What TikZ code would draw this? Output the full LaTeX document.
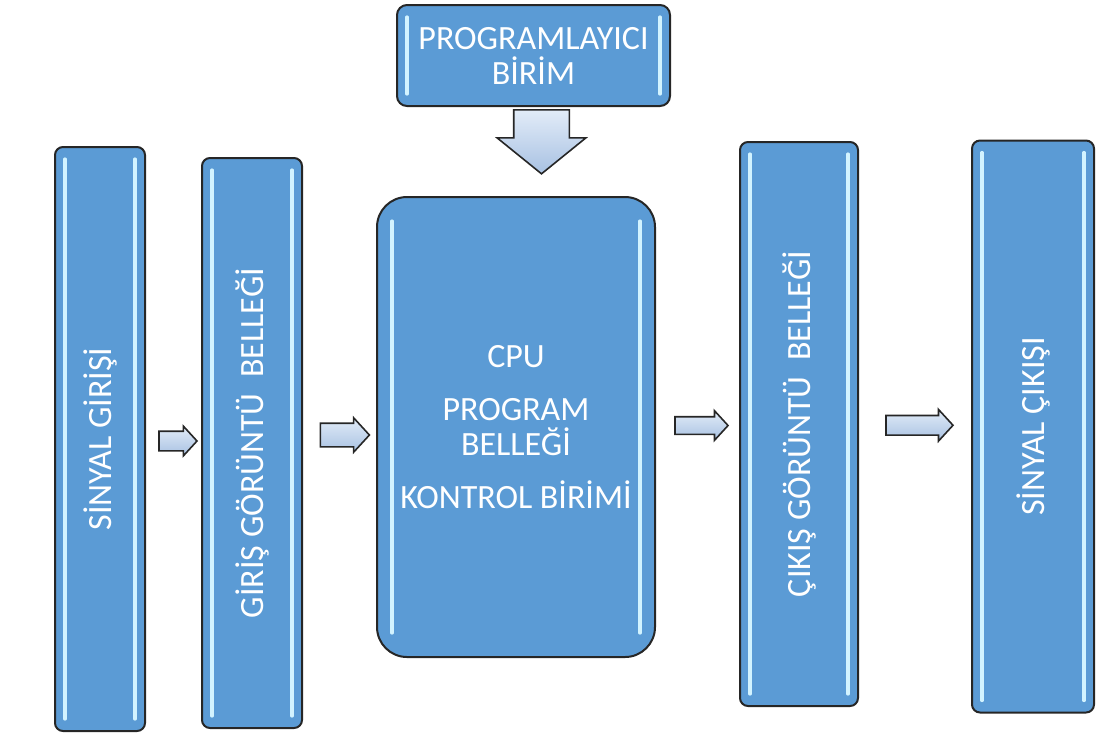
\documentclass[tikz,border=0pt]{standalone}
\usepackage{fontspec}
\setmainfont{Carlito}
\usepackage{tikz}
\definecolor{boxblue}{RGB}{91,155,213}
\definecolor{glintblue}{RGB}{210,243,255}
\definecolor{arrowtop}{RGB}{226,236,248}
\definecolor{arrowbottom}{RGB}{168,193,226}
\usetikzlibrary{shapes.arrows, positioning, calc}

\begin{document}
\begin{tikzpicture}[
    x=0.5pt, y=-0.5pt,
    glint x/.initial=5pt,
    glint y/.initial=6pt,
    box/.style={rectangle, draw=black!85, line width=1pt, fill=boxblue,
                rounded corners=4pt, text=white, align=center,
                font=\fontsize{17}{17.5}\selectfont,
                path picture={
                  \draw[glintblue, line width=1.6pt, line cap=round]
                    ([xshift=\pgfkeysvalueof{/tikz/glint x}, yshift=-\pgfkeysvalueof{/tikz/glint y}]path picture bounding box.north west)
                    -- ([xshift=\pgfkeysvalueof{/tikz/glint x}, yshift=\pgfkeysvalueof{/tikz/glint y}]path picture bounding box.south west);
                  \draw[glintblue, line width=1.6pt, line cap=round]
                    ([xshift=-\pgfkeysvalueof{/tikz/glint x}, yshift=-\pgfkeysvalueof{/tikz/glint y}]path picture bounding box.north east)
                    -- ([xshift=-\pgfkeysvalueof{/tikz/glint x}, yshift=\pgfkeysvalueof{/tikz/glint y}]path picture bounding box.south east);
                }},
    vtext/.style={rotate=90, text=white, font=\fontsize{17}{17.5}\selectfont},
    vbox/.style={box, label={[vtext]center:#1}},
    blockarrow/.style={single arrow, draw=black!85, line width=0.8pt,
                top color=arrowtop, bottom color=arrowbottom,
                inner xsep=0pt, single arrow tip angle=95}
]
    \useasboundingbox (0,0) rectangle (1096,736);

    % tall boxes
    \node[vbox=SİNYAL GİRİŞİ, minimum width=45pt, minimum height=292pt] (sigin) at (100,439) {};
    \node[vbox=GİRİŞ GÖRÜNTÜ\ \ BELLEĞİ, minimum width=50pt, minimum height=285pt] (imgin) at (252,443) {};
    \node[box, rounded corners=15pt, glint x=7.5pt, glint y=12pt,
          minimum width=139pt, minimum height=230pt] (cpu) at (516,427)
          {CPU\\[9pt] PROGRAM\\ BELLEĞİ\\[9pt] KONTROL BİRİMİ};
    \node[vbox=ÇIKIŞ GÖRÜNTÜ\ \ BELLEĞİ, minimum width=59pt, minimum height=282pt] (imgout) at (799,424) {};
    \node[vbox=SİNYAL ÇIKIŞI, minimum width=61pt, minimum height=286pt] (sigout) at (1033,426.5) {};

    % programming unit
    \node[box, rounded corners=5pt, minimum width=136.5pt, minimum height=50.5pt] (prog) at (533.5,55.5)
          {PROGRAMLAYICI\\ BİRİM};

    % block arrows
    \node[blockarrow, minimum height=32pt, inner xsep=13.5pt, inner ysep=0pt, single arrow head extend=8.25pt,
          single arrow tip angle=102, shape border rotate=270, anchor=tail] (load)
          at ([xshift=4pt, yshift=-1pt]prog.south) {};
    \node[blockarrow, minimum height=19pt, inner ysep=4.5pt, single arrow head extend=2.5pt] (a1)
          at ($(sigin.east)!0.5!(imgin.west)$) {};
    \node[blockarrow, minimum height=24.5pt, inner ysep=5.5pt, single arrow head extend=2.75pt] (a2)
          at ($(imgin.east)!0.5!(cpu.west)$) {};
    \node[blockarrow, minimum height=26.5pt, inner ysep=4pt, single arrow head extend=3pt] (a3)
          at ($(cpu.east)!0.5!(imgout.west)$) {};
    \node[blockarrow, minimum height=33.5pt, inner ysep=4.5pt, single arrow head extend=3pt] (a4)
          at ($(imgout.east)!0.5!(sigout.west)$) {};
\end{tikzpicture}
\end{document}
